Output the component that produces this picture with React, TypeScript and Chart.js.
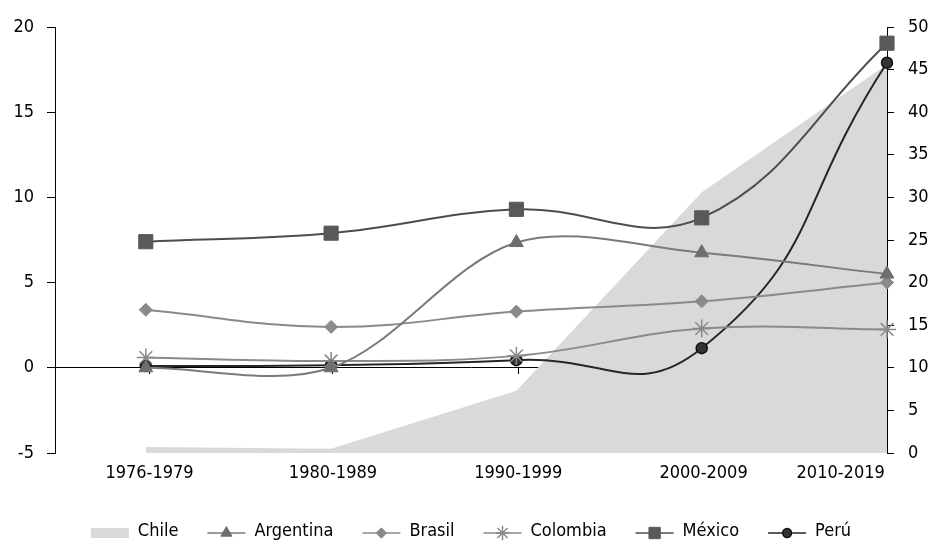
import React, { useEffect, useRef } from "react";
import { Chart, registerables } from "chart.js";
import { drawPoint } from "chart.js/helpers";

Chart.register(...registerables);

const categories = ["1976-1979", "1980-1989", "1990-1999", "2000-2009", "2010-2019"];
const chile = [0.7, 0.5, 7.3, 30.6, 45.6];
const argentina = [0.0, 0.0, 7.35, 6.75, 5.5];
const brasil = [3.4, 2.4, 3.3, 3.9, 5.0];
const colombia = [0.6, 0.4, 0.7, 2.3, 2.25];
const mexico = [7.4, 7.9, 9.3, 8.8, 19.05];
const peru = [0.1, 0.15, 0.45, 1.15, 17.9];

const FONT_FAMILY = '"Liberation Sans Narrow", "DejaVu Sans Condensed", "Arial Narrow", sans-serif';
const FONT_SIZE = 18;
const font = { family: FONT_FAMILY, size: FONT_SIZE };

const toPoints = (vals: number[]) => vals.map((y, x) => ({ x, y }));

const legendSymbols = {
  id: "legendSymbols",
  afterDraw(chart: any) {
    const legend = chart.legend;
    if (!legend || !legend.legendHitBoxes || !legend.options.display) return;
    const ctx = chart.ctx;
    const boxW = legend.options.labels.boxWidth;
    legend.legendItems.forEach((item: any, i: number) => {
      const hb = legend.legendHitBoxes[i];
      if (!hb) return;
      const ds = chart.data.datasets[item.datasetIndex];
      const cy = hb.top + FONT_SIZE / 2 + 2;
      const x0 = hb.left;
      const x1 = hb.left + boxW;
      const cx = (x0 + x1) / 2;
      ctx.save();
      if (ds.fill) {
        ctx.fillStyle = ds.backgroundColor;
        ctx.fillRect(x0, cy - 5, boxW, 10);
      } else {
        ctx.strokeStyle = ds.borderColor;
        ctx.lineWidth = 1.5;
        ctx.beginPath();
        ctx.moveTo(x0, cy);
        ctx.lineTo(x1, cy);
        ctx.stroke();
        ctx.fillStyle = ds.pointBackgroundColor;
        ctx.strokeStyle = ds.pointBorderColor;
        ctx.lineWidth = ds.pointBorderWidth;
        drawPoint(
          ctx,
          { pointStyle: ds.pointStyle, radius: ds.pointRadius * 0.8, rotation: 0, borderWidth: ds.pointBorderWidth },
          cx,
          cy
        );
      }
      ctx.restore();
    });
  },
};

function lineSet(
  label: string,
  vals: number[],
  line: string,
  fill: string,
  stroke: string,
  style: string,
  radius: number,
  bw: number,
  tension: number
) {
  return {
    label,
    data: toPoints(vals),
    xAxisID: "x",
    yAxisID: "y",
    borderColor: line,
    borderWidth: 2,
    backgroundColor: fill,
    pointBackgroundColor: fill,
    pointBorderColor: stroke,
    pointBorderWidth: bw,
    pointStyle: style,
    pointRadius: radius,
    pointHoverRadius: radius,
    tension,
    fill: false,
    clip: false,
    order: 0,
  };
}

export default function App() {
  const ref = useRef<HTMLCanvasElement | null>(null);

  useEffect(() => {
    if (!ref.current) return;
    const chart = new Chart(ref.current, {
      type: "line",
      data: {
        datasets: [
          {
            label: "Chile",
            data: toPoints(chile),
            xAxisID: "x",
            yAxisID: "y2",
            fill: "origin",
            backgroundColor: "#d9d9d9",
            borderColor: "#d9d9d9",
            borderWidth: 0,
            pointRadius: 0,
            pointHoverRadius: 0,
            tension: 0,
            order: 1,
          } as any,
          lineSet("Argentina", argentina, "#7a7a7a", "#6e6e6e", "#6e6e6e", "triangle", 8, 1, 0.33),
          lineSet("Brasil", brasil, "#8a8a8a", "#8a8a8a", "#8a8a8a", "rectRot", 6.5, 1, 0.4),
          lineSet("Colombia", colombia, "#8a8a8a", "#8a8a8a", "#8a8a8a", "star", 9, 1.5, 0.4),
          lineSet("México", mexico, "#4d4d4d", "#595959", "#595959", "rect", 10, 1, 0.4),
          lineSet("Perú", peru, "#262626", "#333333", "#111111", "circle", 5.5, 1.5, 0.5),
        ],
      },
      options: {
        animation: false,
        responsive: true,
        maintainAspectRatio: false,
        layout: { padding: { top: 27, bottom: 4, left: 0, right: 0 } },
        plugins: {
          tooltip: { enabled: false },
          legend: {
            position: "bottom",
            fullSize: false,
            labels: {
              boxWidth: 38,
              boxHeight: 10,
              padding: 29,
              color: "#000",
              font,
              sort: (a: any, b: any) => a.datasetIndex - b.datasetIndex,
              generateLabels: (c: any) =>
                (Chart.defaults.plugins.legend.labels.generateLabels as any)(c).map((l: any) => ({
                  ...l,
                  fillStyle: "rgba(0,0,0,0)",
                  strokeStyle: "rgba(0,0,0,0)",
                  lineWidth: 0,
                })),
            },
          },
        },
        scales: {
          x: {
            type: "linear",
            min: -0.49,
            max: 4,
            position: "bottom",
            grid: { display: false, drawTicks: false },
            border: { display: false },
            ticks: {
              color: "#000",
              font,
              padding: 10,
              maxRotation: 0,
              minRotation: 0,
              autoSkip: false,
              callback: (_v: any, i: number) => categories[i] ?? "",
            },
            afterBuildTicks: (s: any) => {
              s.ticks = [0.02, 1.01, 2.01, 3.01, 3.75].map((value) => ({ value }));
            },
            afterFit: (s: any) => {
              s.height = 40;
            },
          },
          x0: {
            type: "linear",
            min: -0.49,
            max: 4,
            position: { y: 0 },
            grid: { drawOnChartArea: false, drawTicks: true, tickLength: 6, tickColor: "#000", tickWidth: 1 },
            border: { display: true, color: "#000", width: 1 },
            ticks: { display: false },
            afterBuildTicks: (s: any) => {
              s.ticks = [0.02, 1.01, 2.01, 3.01].map((value) => ({ value }));
            },
            afterFit: (s: any) => {
              s.height = 0;
            },
          },
          y: {
            type: "linear",
            position: "left",
            min: -5,
            max: 20,
            ticks: { stepSize: 5, color: "#000", font, padding: 13 },
            grid: { drawOnChartArea: false, drawTicks: true, tickLength: 8, tickColor: "#000" },
            border: { display: true, color: "#000", width: 1 },
            afterFit: (s: any) => {
              s.width = 55;
            },
          },
          y2: {
            type: "linear",
            position: "right",
            min: 0,
            max: 50,
            ticks: { stepSize: 5, color: "#000", font, padding: 14 },
            grid: { drawOnChartArea: false, drawTicks: true, tickLength: 7, tickColor: "#000" },
            border: { display: true, color: "#000", width: 1 },
            afterFit: (s: any) => {
              s.width = 48;
            },
          },
        },
      } as any,
      plugins: [legendSymbols],
    });
    return () => chart.destroy();
  }, []);

  return (
    <div style={{ position: "fixed", left: 0, top: 0, width: 935, height: 554, background: "#fff" }}>
      <canvas ref={ref} />
    </div>
  );
}
